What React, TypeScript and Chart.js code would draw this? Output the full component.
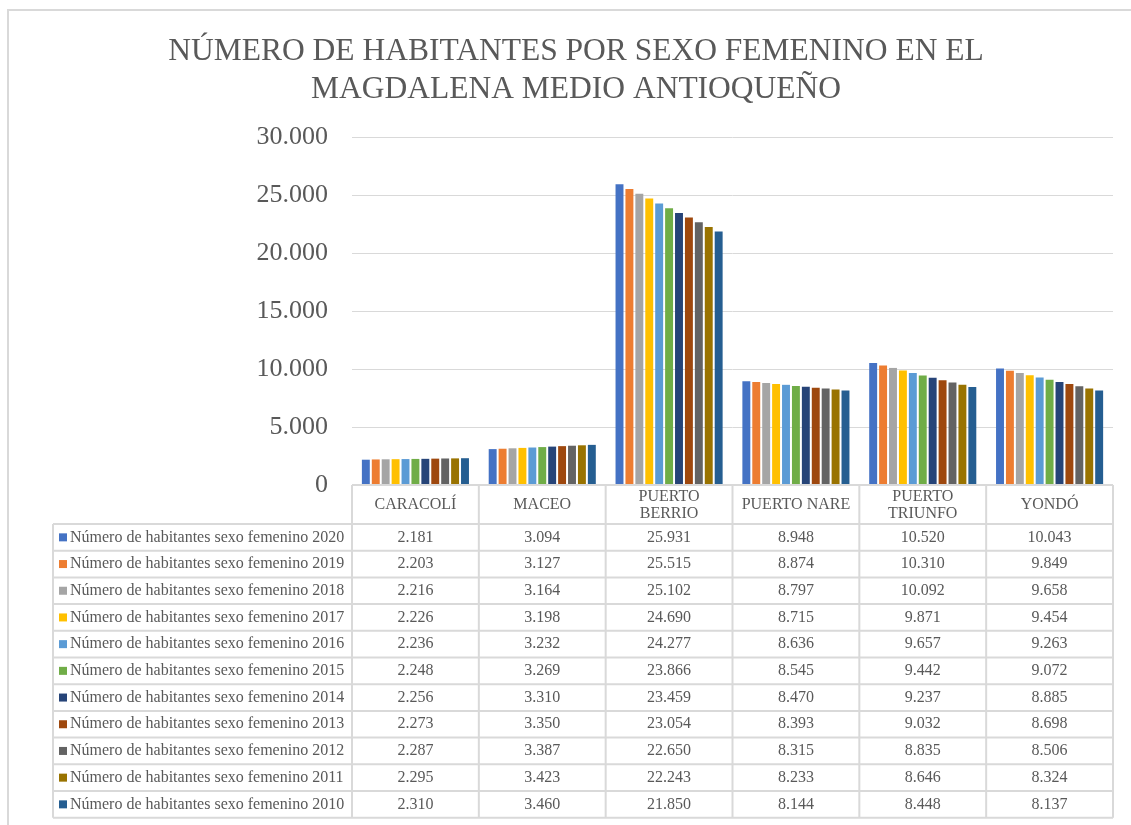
import React, { useEffect, useRef } from "react";
import { Chart, registerables } from "chart.js";

Chart.register(...registerables);

const categories = ["CARACOLÍ", "MACEO", "PUERTO BERRIO", "PUERTO NARE", "PUERTO TRIUNFO", "YONDÓ"];
const categoryLines = [["CARACOLÍ"], ["MACEO"], ["PUERTO", "BERRIO"], ["PUERTO NARE"], ["PUERTO", "TRIUNFO"], ["YONDÓ"]];

const years = ["2020", "2019", "2018", "2017", "2016", "2015", "2014", "2013", "2012", "2011", "2010"];

const f2020 = [2181, 3094, 25931, 8948, 10520, 10043];
const f2019 = [2203, 3127, 25515, 8874, 10310, 9849];
const f2018 = [2216, 3164, 25102, 8797, 10092, 9658];
const f2017 = [2226, 3198, 24690, 8715, 9871, 9454];
const f2016 = [2236, 3232, 24277, 8636, 9657, 9263];
const f2015 = [2248, 3269, 23866, 8545, 9442, 9072];
const f2014 = [2256, 3310, 23459, 8470, 9237, 8885];
const f2013 = [2273, 3350, 23054, 8393, 9032, 8698];
const f2012 = [2287, 3387, 22650, 8315, 8835, 8506];
const f2011 = [2295, 3423, 22243, 8233, 8646, 8324];
const f2010 = [2310, 3460, 21850, 8144, 8448, 8137];

const seriesValues = [f2020, f2019, f2018, f2017, f2016, f2015, f2014, f2013, f2012, f2011, f2010];

const colors = [
  "#4472C4", "#ED7D31", "#A5A5A5", "#FFC000", "#5B9BD5", "#70AD47",
  "#264478", "#9E480E", "#636363", "#997300", "#255E91",
];

const yTicks = [0, 5000, 10000, 15000, 20000, 25000, 30000];

const titleLines = ["NÚMERO DE HABITANTES POR SEXO FEMENINO EN EL", "MAGDALENA MEDIO ANTIOQUEÑO"];

const fmt = (n: number) => n.toString().replace(/\B(?=(\d{3})+(?!\d))/g, ".");

const FONT = '"Liberation Serif", "Times New Roman", serif';
const TEXT = "#595959";
const LINE = "#D9D9D9";

const tablePlugin = {
  id: "tablePlugin",
  afterDraw(chart: any) {
    const ctx = chart.ctx as CanvasRenderingContext2D;
    const area = chart.chartArea;
    const n = categories.length;
    const colW = (area.right - area.left) / n;
    const headerTop = area.bottom;
    const headerBottom = headerTop + 39;
    const rowH = 26.7;
    const legendLeft = 53;
    const tableBottom = headerBottom + rowH * years.length;

    ctx.save();
    // outer border
    ctx.strokeStyle = LINE;
    ctx.lineWidth = 2;
    ctx.beginPath();
    ctx.moveTo(8, 825);
    ctx.lineTo(8, 10);
    ctx.lineTo(1131, 10);
    ctx.stroke();

    // title
    ctx.fillStyle = TEXT;
    ctx.font = `31.5px ${FONT}`;
    ctx.textAlign = "center";
    ctx.textBaseline = "alphabetic";
    ctx.fillText(titleLines[0], 576, 60);
    ctx.fillText(titleLines[1], 576, 98);

    // table lines
    ctx.strokeStyle = LINE;
    ctx.lineWidth = 2;
    ctx.beginPath();
    ctx.moveTo(area.left, headerTop);
    ctx.lineTo(area.right, headerTop);
    for (let r = 0; r <= years.length; r++) {
      const y = headerBottom + r * rowH;
      ctx.moveTo(legendLeft, y);
      ctx.lineTo(area.right, y);
    }
    ctx.moveTo(legendLeft, headerBottom);
    ctx.lineTo(legendLeft, tableBottom);
    for (let c = 0; c <= n; c++) {
      const x = area.left + c * colW;
      ctx.moveTo(x, headerTop);
      ctx.lineTo(x, tableBottom);
    }
    ctx.stroke();

    // header labels
    ctx.fillStyle = TEXT;
    ctx.font = `16px ${FONT}`;
    ctx.textAlign = "center";
    ctx.textBaseline = "middle";
    const hMid = (headerTop + headerBottom) / 2;
    categoryLines.forEach((lines, i) => {
      const cx = chart.scales.x.getPixelForValue(i);
      if (lines.length === 1) {
        ctx.fillText(lines[0], cx, hMid);
      } else {
        ctx.fillText(lines[0], cx, hMid - 8);
        ctx.fillText(lines[1], cx, hMid + 9.5);
      }
    });

    // rows
    years.forEach((yr, r) => {
      const cy = headerBottom + r * rowH + rowH / 2;
      ctx.fillStyle = colors[r];
      ctx.fillRect(59, cy - 4, 8, 8);
      ctx.fillStyle = TEXT;
      ctx.textAlign = "left";
      ctx.fillText(`Número de habitantes sexo femenino ${yr}`, 70, cy);
      ctx.textAlign = "center";
      seriesValues[r].forEach((v, i) => {
        const cx = chart.scales.x.getPixelForValue(i);
        ctx.fillText(fmt(v), cx, cy);
      });
    });
    ctx.restore();
  },
};

export default function App() {
  const ref = useRef<HTMLCanvasElement>(null);
  useEffect(() => {
    if (!ref.current) return;
    const chart = new Chart(ref.current, {
      type: "bar",
      data: {
        labels: categories,
        datasets: years.map((yr, i) => ({
          label: `Número de habitantes sexo femenino ${yr}`,
          data: seriesValues[i],
          backgroundColor: colors[i],
          borderWidth: 0,
          categoryPercentage: 0.86,
          barPercentage: 0.8,
        })),
      },
      options: {
        animation: false,
        responsive: false,
        devicePixelRatio: 1,
        layout: { padding: { left: 0, right: 18, top: 137, bottom: 340 } },
        plugins: {
          legend: { display: false },
          tooltip: { enabled: false },
          title: { display: false },
        },
        scales: {
          x: { display: false, offset: true },
          y: {
            min: 0,
            max: 30000,
            afterFit: (s: any) => {
              s.width = 352;
            },
            afterBuildTicks: (s: any) => {
              s.ticks = yTicks.map((v) => ({ value: v }));
            },
            ticks: {
              padding: 24,
              color: TEXT,
              font: { family: FONT, size: 26 },
              callback: (v: any) => fmt(Number(v)),
            },
            grid: { color: LINE, lineWidth: 1, drawTicks: false },
            border: { display: false },
          },
        },
      },
      plugins: [tablePlugin],
    });
    return () => chart.destroy();
  }, []);
  return (
    <canvas
      ref={ref}
      width={1131}
      height={825}
      style={{ position: "fixed", left: 0, top: 0, width: 1131, height: 825 }}
    />
  );
}
